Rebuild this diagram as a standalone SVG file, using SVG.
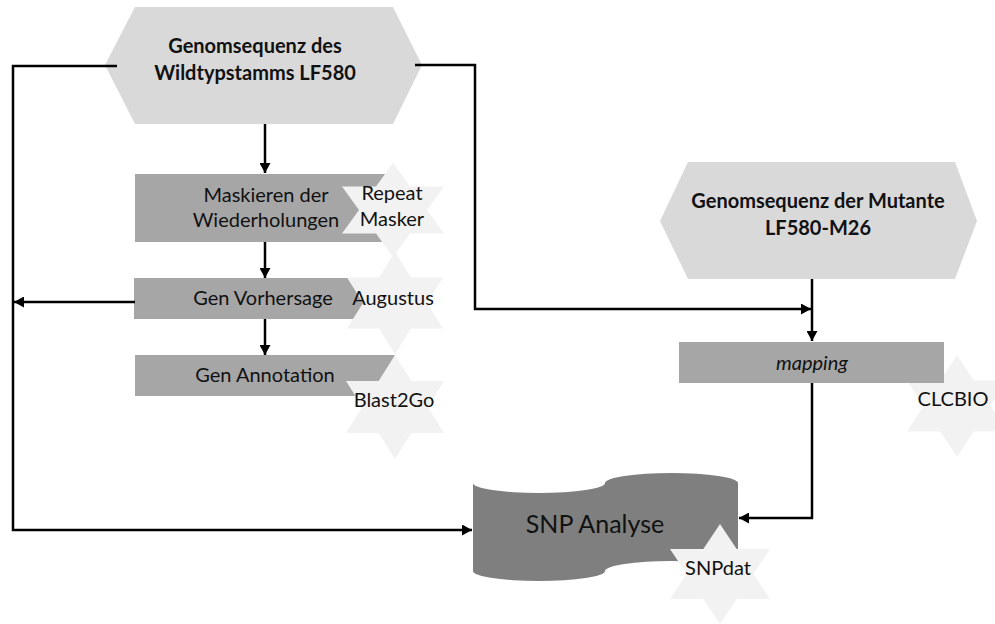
<svg xmlns="http://www.w3.org/2000/svg" xmlns:xlink="http://www.w3.org/1999/xlink" width="995" height="624" viewBox="0 0 995 624">
<style>
text{font-family:Lato,"Liberation Sans",sans-serif;fill:#111;text-anchor:middle}
.hex{fill:#d9d9d9}
.box{fill:#a6a6a6}
.star{fill:#f2f2f2}
.snp{fill:#7f7f7f}
.b{font-weight:bold;font-size:20px}
.t{font-size:20px}
.c{fill:none;stroke:#000;stroke-width:2.5}
</style>
<defs>
<polygon id="hexagram" points="0,-50 16.67,-25 50,-25 33.33,0 50,25 16.67,25 0,50 -16.67,25 -50,25 -33.33,0 -50,-25 -16.67,-25"/>
<marker id="ah" markerUnits="userSpaceOnUse" markerWidth="10" markerHeight="11" viewBox="0 0 10 11" refX="10" refY="5.5" orient="auto">
<path d="M0,0 L10,5.5 L0,11 z" fill="#000"/>
</marker>
</defs>
<g id="wildtyp">
<polygon class="hex" points="135,7 393,7 422,65 393,124 135,124 105,65"/>
<text class="b" x="255" y="53">Genomsequenz des</text>
<text class="b" x="255" y="80">Wildtypstamms LF580</text>
</g>
<g id="mutante">
<polygon class="hex" points="688,162 955,162 977,221 955,279 688,279 660,221"/>
<text class="b" x="818" y="208">Genomsequenz der Mutante</text>
<text class="b" x="818" y="235">LF580-M26</text>
</g>
<g id="maskieren">
<rect class="box" x="135" y="174" width="258" height="68"/>
<text class="t" x="266" y="202">Maskieren der</text>
<text class="t" x="266" y="227">Wiederholungen</text>
</g>
<g id="repeatmasker">
<use xlink:href="#hexagram" class="star" transform="translate(393,210) scale(1.02,0.94)"/>
<text class="t" x="392" y="200">Repeat</text>
<text class="t" x="392" y="226">Masker</text>
</g>
<g id="vorhersage">
<rect class="box" x="134" y="278" width="261" height="41"/>
<text class="t" x="263" y="305">Gen Vorhersage</text>
</g>
<g id="augustus">
<use xlink:href="#hexagram" class="star" transform="translate(395,303) scale(0.96,1.02)"/>
<text class="t" x="393" y="305">Augustus</text>
</g>
<g id="annotation">
<rect class="box" x="135" y="355" width="260" height="41"/>
<text class="t" x="265" y="382">Gen Annotation</text>
</g>
<g id="blast2go">
<use xlink:href="#hexagram" class="star" transform="translate(395,407) scale(0.98,1.04)"/>
<text class="t" x="394" y="407">Blast2Go</text>
</g>
<g id="clcbio">
<use xlink:href="#hexagram" class="star" transform="translate(957,406) scale(1,1.02)"/>
<text class="t" x="953" y="406">CLCBIO</text>
</g>
<g id="mapping">
<rect class="box" x="679" y="342" width="265" height="41"/>
<text class="t" x="812" y="370" font-style="italic">mapping</text>
</g>
<g id="snpanalyse">
<path class="snp" d="M473,483 A66,10 0 0 0 605,483 A66.5,10 0 0 1 738,483 L738,571 A66.5,10 0 0 0 605,571 A66,10 0 0 1 473,571 Z"/>
<text x="595" y="533" font-size="25">SNP Analyse</text>
</g>
<g id="snpdat">
<use xlink:href="#hexagram" class="star" transform="translate(720,574)"/>
<text class="t" x="718" y="575">SNPdat</text>
</g>
<g id="connectors">
<path class="c" d="M265,124 V173" marker-end="url(#ah)"/>
<path class="c" d="M265,242 V278" marker-end="url(#ah)"/>
<path class="c" d="M265,319 V355" marker-end="url(#ah)"/>
<path class="c" d="M117,66 H13 V530 H472" marker-end="url(#ah)"/>
<path class="c" d="M135,302 H14" marker-end="url(#ah)"/>
<path class="c" d="M415,65 H475 V309 H811" marker-end="url(#ah)"/>
<path class="c" d="M812,279 V341" marker-end="url(#ah)"/>
<path class="c" d="M812,383 V518 H739" marker-end="url(#ah)"/>
</g>
</svg>
